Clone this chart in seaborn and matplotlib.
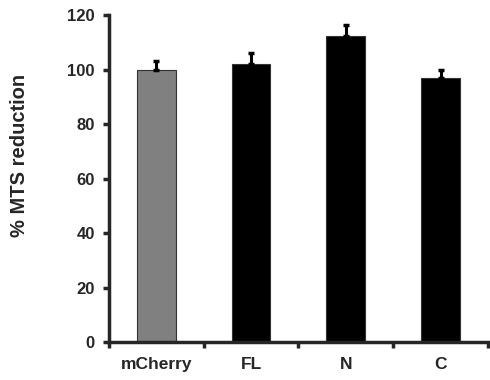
import numpy as np
import pandas as pd
import matplotlib
matplotlib.use("Agg")
import matplotlib.pyplot as plt
import seaborn as sns

# Data
groups = ["mCherry", "FL", "N", "C"]
mts_reduction = [100, 102, 112.5, 97]
sem = [3, 4, 4, 3]
bar_colors = ["#808080", "#000000", "#000000", "#000000"]

df = pd.DataFrame({"group": groups, "value": mts_reduction})

sns.set_style("ticks")
plt.rcParams["font.family"] = ["Liberation Sans", "DejaVu Sans"]

fig = plt.figure(figsize=(4.9, 3.8), dpi=100)
ax = fig.add_axes([0.222, 0.10, 0.774, 0.86])

sns.barplot(data=df, x="group", y="value", hue="group", palette=bar_colors,
            errorbar=None, width=0.41, edgecolor="#333333", linewidth=0.8,
            legend=False, ax=ax)

# upper-only error bars
pos = np.arange(len(groups))
ax.errorbar(pos, mts_reduction, yerr=[np.zeros(len(sem)), sem], fmt="none",
            ecolor="black", elinewidth=2.2, capsize=2.5, capthick=2.5, zorder=3)

ax.set_ylim(0, 120)
ax.set_yticks(range(0, 121, 20))
ax.set_xlim(-0.5, len(groups) - 0.5)
ax.set_xticks(np.arange(-0.5, len(groups), 1.0), minor=True)

ax.set_xlabel("")
ax.set_ylabel("% MTS reduction", fontsize=14.5, fontweight="bold")
ax.yaxis.set_label_coords(-0.21, 0.57)

for s in ["top", "right"]:
    ax.spines[s].set_visible(False)
for s in ["left", "bottom"]:
    ax.spines[s].set_linewidth(2.5)

ax.tick_params(axis="y", direction="out", length=4, width=2.5, labelsize=12, pad=6)
ax.tick_params(axis="x", which="major", length=0, labelsize=12.5, pad=11)
ax.tick_params(axis="x", which="minor", direction="out", length=4, width=2.5)
for lab in ax.get_xticklabels() + ax.get_yticklabels():
    lab.set_fontweight("bold")

fig.savefig("out.png", dpi=100)
